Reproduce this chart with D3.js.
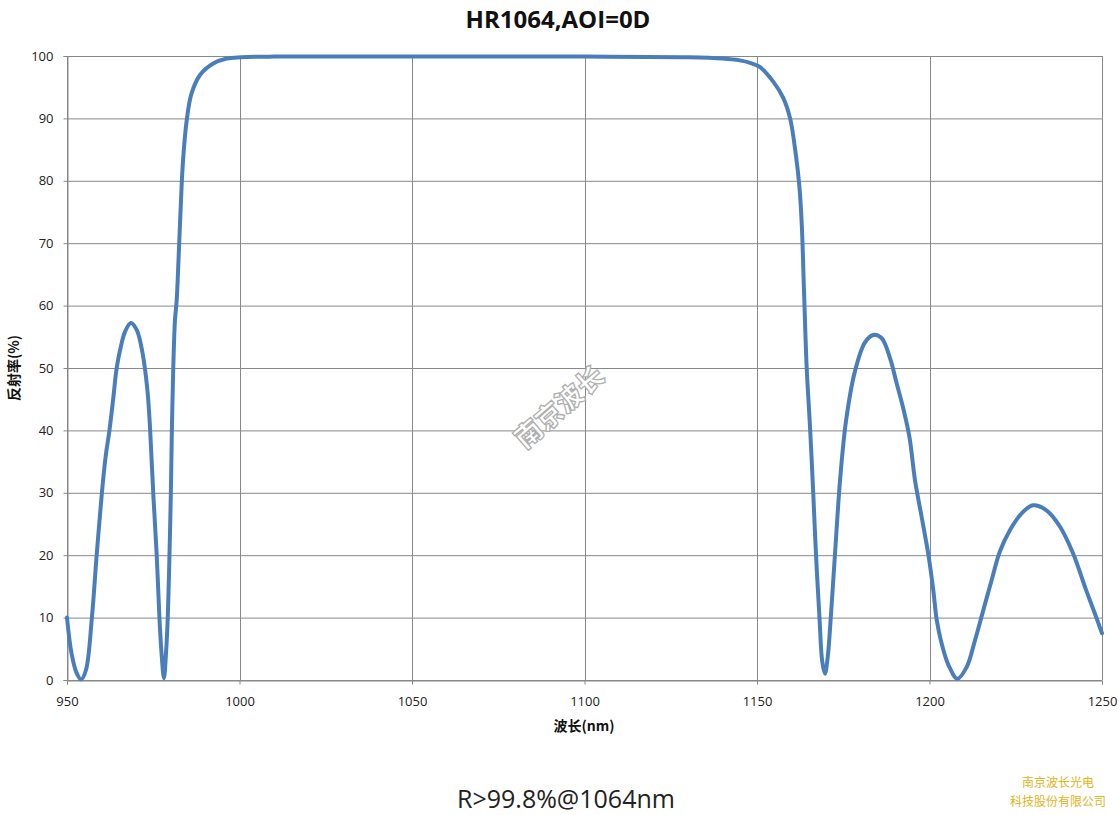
<!DOCTYPE html>
<html><head><meta charset="utf-8">
<script src="https://cdn.jsdelivr.net/npm/d3@7"></script>
<style>body{margin:0;background:#fff}svg{display:block}</style>
</head><body>
<svg id="c" width="1120" height="815"></svg>
<script>
const title = "HR1064,AOI=0D";
const xLabel = "波长(nm)";
const yLabel = "反射率(%)";
const note = "R>99.8%@1064nm";
const company = ["南京波长光电", "科技股份有限公司"];
const watermark = "南京波长";
const xTicks = [950, 1000, 1050, 1100, 1150, 1200, 1250];
const yTicks = [0, 10, 20, 30, 40, 50, 60, 70, 80, 90, 100];

const wavelength = [950, 951.3, 952.8, 954.1, 955.5, 957.2, 958.6, 960.1, 961.2, 962.3, 963.4, 964.4, 965.6, 966.8, 968.5, 970.2, 971.9, 973.3, 974.1, 975, 976, 976.8, 977.4, 978.1, 978.7, 979.2, 979.7, 980.1, 980.4, 980.8, 981.3, 981.8, 982.3, 982.9, 983.6, 984.7, 986.1, 988.6, 992.4, 996.3, 1000.6, 1010, 1050, 1100, 1130, 1140, 1145, 1148, 1150.9, 1154.7, 1157.6, 1159.6, 1161.3, 1162.3, 1163, 1163.6, 1164.4, 1165.4, 1166.3, 1167.1, 1168.1, 1168.9, 1169.7, 1170.5, 1171.4, 1172.6, 1174.1, 1175.8, 1178.4, 1181.3, 1183.7, 1186.1, 1188.6, 1190.5, 1192.4, 1194.2, 1195.8, 1197.7, 1199.7, 1201.1, 1202.1, 1203.5, 1205.5, 1208.1, 1210.8, 1213.2, 1215.6, 1218.0, 1220.4, 1223.3, 1226.7, 1230, 1233.9, 1237.8, 1241.6, 1245.4, 1248.3, 1250];
const reflectance = [10, 4.3, 1.1, 0.1, 1.6, 9.9, 20, 29.9, 35.8, 40, 45.1, 50, 53.4, 55.8, 57.2, 56.1, 52.4, 46.5, 40.1, 29.9, 20, 9.9, 4.3, 0.3, 4.3, 9.9, 20, 29.9, 40, 50, 57.7, 60.9, 67, 75, 83, 89.7, 94, 97, 98.8, 99.6, 99.8, 99.9, 99.9, 99.9, 99.8, 99.6, 99.3, 98.9, 98.2, 95.9, 93.3, 90, 84, 79, 72.7, 62.8, 50.1, 40.2, 30, 20.1, 10.1, 3, 1, 3.7, 10.1, 20.1, 32.2, 41.5, 49.5, 54.1, 55.3, 54.8, 51.5, 47.5, 43.5, 38.9, 32, 26.2, 20, 14.4, 9.6, 5.9, 2.4, 0.2, 2.1, 6.4, 11.2, 16, 20.6, 24, 26.7, 28, 27.2, 24.6, 20.3, 14.4, 10.1, 7.5];

const svg = d3.select("#c");
const L = 67, R = 1102, T = 56, B = 680;
const x = d3.scaleLinear().domain([950, 1250]).range([L, R]);
const y = d3.scaleLinear().domain([0, 100]).range([B, T]);
const grid = "#888888";
const font = "'Open Sans','Liberation Sans',Arial,sans-serif";

// gridlines
svg.append("g").selectAll("line.h").data(yTicks).join("line")
  .attr("x1", L).attr("x2", R).attr("y1", d => y(d) + 0.5).attr("y2", d => y(d) + 0.5)
  .attr("stroke", grid).attr("stroke-width", 1);
svg.append("g").selectAll("line.v").data(xTicks).join("line")
  .attr("y1", T).attr("y2", B).attr("x1", d => Math.round(x(d)) + 0.5).attr("x2", d => Math.round(x(d)) + 0.5)
  .attr("stroke", grid).attr("stroke-width", 1);

// axes
const yAxis = svg.append("g").attr("transform", `translate(${L + 0.5},0)`)
  .call(d3.axisLeft(y).tickValues(yTicks).tickSize(4).tickPadding(10));
const xAxis = svg.append("g").attr("transform", `translate(0,${B + 0.5})`)
  .call(d3.axisBottom(x).tickValues(xTicks).tickSize(4).tickPadding(12).tickFormat(d3.format("d")));
[yAxis, xAxis].forEach(a => {
  a.select(".domain").attr("stroke", grid);
  a.selectAll(".tick line").attr("stroke", grid);
  a.selectAll("text").attr("fill", "#222").style("font-family", font).style("font-size", "13px");
});

// watermark
svg.append("text").attr("transform", "translate(561,409) rotate(-41)")
  .attr("text-anchor", "middle").attr("dominant-baseline", "middle")
  .style("font-family", "'Noto Sans CJK SC',sans-serif").style("font-size", "27px").style("font-weight", "900")
  .attr("fill", "#ffffff").attr("stroke", "#b0b0b0").attr("stroke-width", 1.3)
  .text(watermark);

// curve
const pts = wavelength.map((w, i) => [w, reflectance[i]]);
svg.append("path").datum(pts)
  .attr("fill", "none").attr("stroke", "#4a7ebb").attr("stroke-width", 4)
  .attr("stroke-linejoin", "round").attr("stroke-linecap", "round")
  .attr("d", d3.line().x(d => x(d[0])).y(d => y(d[1])).curve(d3.curveCatmullRom.alpha(0.5)));

// titles
svg.append("text").attr("x", 558).attr("y", 28).attr("text-anchor", "middle")
  .style("font-family", font).style("font-size", "24px").style("font-weight", "bold").attr("fill", "#111")
  .text(title);
svg.append("text").attr("x", 584).attr("y", 731).attr("text-anchor", "middle")
  .style("font-family", "'Noto Sans CJK SC',sans-serif").style("font-size", "14px").style("font-weight", "bold").attr("fill", "#111")
  .text(xLabel);
svg.append("text").attr("transform", "translate(19,368) rotate(-90)").attr("text-anchor", "middle")
  .style("font-family", "'Noto Sans CJK SC',sans-serif").style("font-size", "14px").style("font-weight", "bold").attr("fill", "#111")
  .text(yLabel);
svg.append("text").attr("x", 566).attr("y", 808).attr("text-anchor", "middle")
  .style("font-family", font).style("font-size", "25px").attr("fill", "#222")
  .text(note);
svg.append("g").selectAll("text").data(company).join("text")
  .attr("x", 1058).attr("y", (d, i) => 787 + i * 19).attr("text-anchor", "middle")
  .style("font-family", "'Noto Sans CJK SC',sans-serif").style("font-size", "12px").attr("fill", "#e0b419")
  .text(d => d);
</script>
</body></html>
